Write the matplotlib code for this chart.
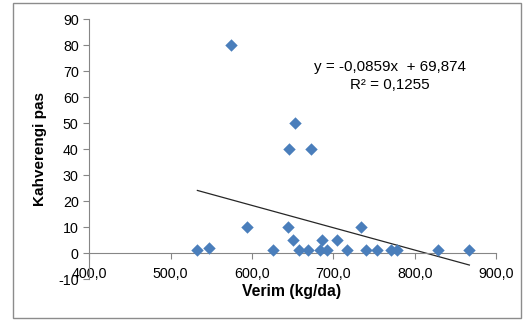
import matplotlib.pyplot as plt
import matplotlib.ticker as mticker
import numpy as np
from matplotlib.patches import Rectangle

plt.rcParams['font.family'] = ['Liberation Sans', 'DejaVu Sans']

# yield (kg/da) and brown rust values
verim = [533, 547, 574, 594, 626, 644, 645, 650, 653, 658, 669, 672,
         684, 686, 692, 704, 717, 734, 740, 753, 771, 778, 828, 867]
pas = [1, 2, 80, 10, 1, 10, 40, 5, 50, 1, 1, 40,
       1, 5, 1, 5, 1, 10, 1, 1, 1, 1, 1, 1]

slope = -0.0859
intercept = 69.874

fig = plt.figure(figsize=(5.24, 3.23), dpi=100)
fig.patches.append(Rectangle((0.025, 0.015), 0.97, 0.975, transform=fig.transFigure,
                             fill=False, edgecolor='#8c8c8c', linewidth=1.0))
ax = fig.add_axes([0.170, 0.136, 0.777, 0.805])

ax.scatter(verim, pas, marker='D', s=40, color='#4a7ebb', zorder=3, linewidths=0)

xs = np.array([min(verim), max(verim)])
ax.plot(xs, slope * xs + intercept, color='#262626', linewidth=0.9, zorder=2)

ax.set_xlim(400, 900)
ax.set_ylim(-10, 90)
ax.set_xticks(np.arange(400, 901, 100))
ax.set_yticks(np.arange(-10, 91, 10))
ax.xaxis.set_major_formatter(mticker.FuncFormatter(lambda v, p: f'{v:.1f}'.replace('.', ',')))
ax.yaxis.set_major_formatter(mticker.FuncFormatter(lambda v, p: f'{int(v)}'))

for s in ['top', 'right']:
    ax.spines[s].set_visible(False)
ax.spines['bottom'].set_position(('data', 0))
ax.spines['bottom'].set_color('#868686')
ax.spines['left'].set_color('#868686')
ax.tick_params(axis='both', colors='#868686', length=4, width=0.8, labelsize=10.3,
               labelcolor='black')
ax.tick_params(axis='x', pad=6)

ax.set_ylabel('Kahverengi pas', fontsize=11, fontweight='bold', labelpad=8)
fig.text(0.557, 0.097, 'Verim (kg/da)', fontsize=11.3, fontweight='bold',
         ha='center', va='center')

ax.text(769, 71.5, 'y = -0,0859x  + 69,874', fontsize=10.9, ha='center', va='center')
ax.text(769, 64.5, 'R² = 0,1255', fontsize=10.9, ha='center', va='center')

fig.savefig('out.png', dpi=100)
